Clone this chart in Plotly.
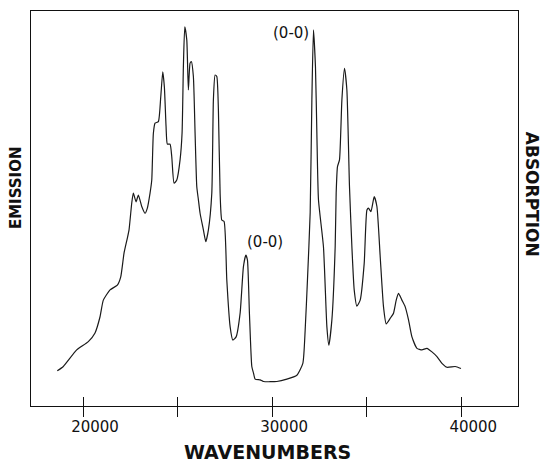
import plotly.graph_objects as go

# Spectrum trace (wavenumber in cm^-1, relative intensity 0-100)
wavenumber = [18640, 18958, 19667, 20280, 20635, 20900, 21074, 21429, 21815, 21995,
              22169, 22344, 22434, 22577, 22661, 22804, 22926, 23106, 23280, 23402,
              23545, 23635, 23720, 23810, 23984, 24111, 24217, 24302, 24392, 24460,
              24603, 24693, 24815, 24958, 25132, 25238, 25307, 25381, 25487, 25571,
              25661, 25730, 25836, 25926, 26016, 26101, 26190, 26365, 26492, 26630,
              26810, 26894, 26984, 27074, 27159, 27249, 27339, 27460, 27603, 27778,
              27921, 28095, 28307, 28482, 28608, 28693, 28799, 28926, 29011, 29101,
              29365, 29540, 30249, 30778, 31307, 31624, 31746, 31868, 32011, 32101,
              32185, 32291, 32365, 32450, 32714, 32894, 33000, 33159, 33333, 33386,
              33455, 33561, 33688, 33826, 33952, 34090, 34217, 34339, 34481, 34656,
              34868, 35011, 35095, 35222, 35397, 35540, 35714, 35889, 36032, 36243,
              36418, 36561, 36682, 36862, 37037, 37212, 37392, 37656, 37921, 38185,
              38450, 38714, 38979, 39243, 39683, 39984]
intensity = [8.9, 10.0, 14.2, 16.3, 18.5, 22.6, 26.8, 29.4, 30.6, 32.7,
             38.7, 42.5, 44.6, 51.4, 53.9, 51.7, 53.4, 50.5, 48.8, 50.1,
             53.9, 57.2, 69.0, 71.6, 72.0, 78.3, 84.6, 80.8, 70.7, 66.3,
             66.3, 63.1, 56.4, 57.2, 62.3, 69.1, 85.9, 96.0, 92.7, 80.0,
             86.8, 87.2, 83.4, 69.0, 55.5, 52.2, 48.8, 44.6, 41.6, 44.6,
             53.9, 77.5, 83.8, 83.4, 74.9, 53.9, 47.1, 46.7, 31.9, 20.1,
             16.7, 17.5, 23.5, 35.3, 38.2, 37.0, 23.5, 10.0, 8.4, 6.8,
             6.6, 6.2, 6.2, 6.8, 7.8, 10.8, 19.2, 31.9, 48.9, 77.5,
             95.2, 85.9, 69.1, 52.2, 40.3, 20.1, 15.4, 21.8, 40.3, 53.9,
             60.6, 62.3, 77.5, 85.5, 80.0, 55.5, 40.3, 29.4, 25.3, 26.8,
             36.1, 49.6, 50.1, 49.2, 53.0, 50.5, 37.8, 25.1, 20.8, 22.2,
             23.5, 26.8, 28.5, 26.8, 25.1, 21.8, 17.5, 14.6, 14.2, 14.6,
             13.7, 12.5, 10.8, 9.8, 10.0, 9.5]

tick_values = [20000, 25000, 30000, 35000, 40000]
tick_labels = ["20000", "", "30000", "", "40000"]

band_labels = ["(0-0)", "(0-0)"]
band_x = [31005, 29630]
band_y = [94.4, 41.5]

x_range = [17250, 43000]
y_range = [0, 100]

fig = go.Figure()
fig.add_trace(go.Scatter(
    x=wavenumber, y=intensity, mode="lines",
    line=dict(color="#1a1a1a", width=1.2, shape="spline", smoothing=0.5),
    hoverinfo="skip", showlegend=False,
))
# invisible trace on overlay axis for inward ticks
fig.add_trace(go.Scatter(x=[wavenumber[0]], y=[intensity[0]], xaxis="x2",
                         mode="markers", marker=dict(opacity=0), showlegend=False,
                         hoverinfo="skip"))

label_font = dict(family="DejaVu Sans", size=16, color="#111", weight="bold")

fig.update_layout(
    width=550, height=473,
    margin=dict(l=23, r=40, t=3, b=75),
    paper_bgcolor="white", plot_bgcolor="white",
    xaxis=dict(range=x_range, tickvals=tick_values, ticktext=tick_labels,
               ticks="outside", ticklen=10, tickwidth=1, tickcolor="#111",
               showline=True, linecolor="#111", linewidth=1, mirror=True,
               showgrid=False, zeroline=False, ticklabelstandoff=-3,
               ticklabelshift=12,
               tickfont=dict(family="DejaVu Sans", size=15, color="#111")),
    xaxis2=dict(range=x_range, overlaying="x", tickvals=tick_values,
                ticktext=["", "", "", "", ""], ticks="inside", ticklen=9,
                tickwidth=1, tickcolor="#111", showgrid=False, zeroline=False,
                showline=False, side="bottom"),
    yaxis=dict(range=y_range, showticklabels=False, ticks="", showgrid=False,
               zeroline=False, showline=True, linecolor="#111", linewidth=1,
               mirror=True),
)

for t, bx, by in zip(band_labels, band_x, band_y):
    fig.add_annotation(x=bx, y=by, text=t, showarrow=False, xanchor="center",
                       yanchor="middle",
                       font=dict(family="DejaVu Sans", size=15, color="#111"))

fig.add_annotation(x=0.485, y=-0.1165, xref="paper", yref="paper", text="WAVENUMBERS",
                   showarrow=False, xanchor="center", yanchor="middle",
                   font=dict(label_font, size=19))
fig.add_annotation(x=-0.031, y=0.554, xref="paper", yref="paper", text="EMISSION",
                   showarrow=False, textangle=-90, xanchor="center", yanchor="middle",
                   font=dict(label_font, size=15))
fig.add_annotation(x=1.029, y=0.537, xref="paper", yref="paper", text="ABSORPTION",
                   showarrow=False, textangle=90, xanchor="center", yanchor="middle",
                   font=dict(label_font, size=17))

fig.write_html("out.html")
